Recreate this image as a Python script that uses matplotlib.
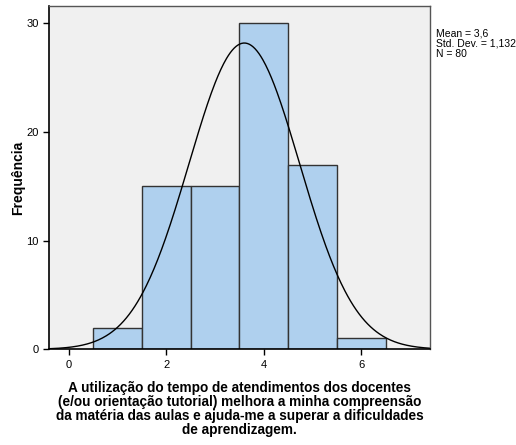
import numpy as np
import matplotlib.pyplot as plt

plt.rcParams['font.family'] = ['Liberation Sans', 'DejaVu Sans']

bin_centers = [1, 2, 3, 4, 5, 6]
counts = [2, 15, 15, 30, 17, 1]
mean_val = 3.6
std_val = 1.132
n_total = 80
x_ticks = [0, 2, 4, 6]
y_ticks = [0, 10, 20, 30]
x_label = ("A utilização do tempo de atendimentos dos docentes\n"
           "(e/ou orientação tutorial) melhora a minha compreensão\n"
           "da matéria das aulas e ajuda-me a superar a dificuldades\n"
           "de aprendizagem.")

fig = plt.figure(figsize=(5.16, 4.45), dpi=100)
ax = fig.add_axes([0.095, 0.215, 0.738, 0.7715])
ax.set_facecolor('#f0f0f0')

ax.bar(bin_centers, counts, width=1.0, color='#afd0ee', edgecolor='#333333', linewidth=1.0)

# curva normal (escala da contagem)
xmin, xmax = -0.4, 7.4
xs = np.linspace(xmin, xmax, 400)
ys = n_total / (std_val * np.sqrt(2 * np.pi)) * np.exp(-0.5 * ((xs - mean_val) / std_val) ** 2)
ax.plot(xs, ys, color='black', linewidth=1.0)

ax.set_xlim(xmin, xmax)
ax.set_ylim(0, 31.6)
ax.set_xticks(x_ticks)
ax.set_yticks(y_ticks)
ax.tick_params(direction='out', length=4, width=1, labelsize=8, colors='black')

for side in ['left', 'bottom']:
    ax.spines[side].set_color('black')
    ax.spines[side].set_linewidth(1.2)
for side in ['top', 'right']:
    ax.spines[side].set_color('#555555')
    ax.spines[side].set_linewidth(1.0)

ax.set_ylabel('Frequência', fontsize=10, fontweight='bold')
ax.yaxis.set_label_coords(-0.062, 0.5)
ax.set_xlabel(x_label, fontsize=9.8, fontweight='bold', labelpad=8, linespacing=1.0)

fig.text(0.845, 0.935, 'Mean = 3,6\nStd. Dev. = 1,132\nN = 80',
         fontsize=7.5, va='top', ha='left', linespacing=1.0)

fig.savefig('out.png', dpi=100)
